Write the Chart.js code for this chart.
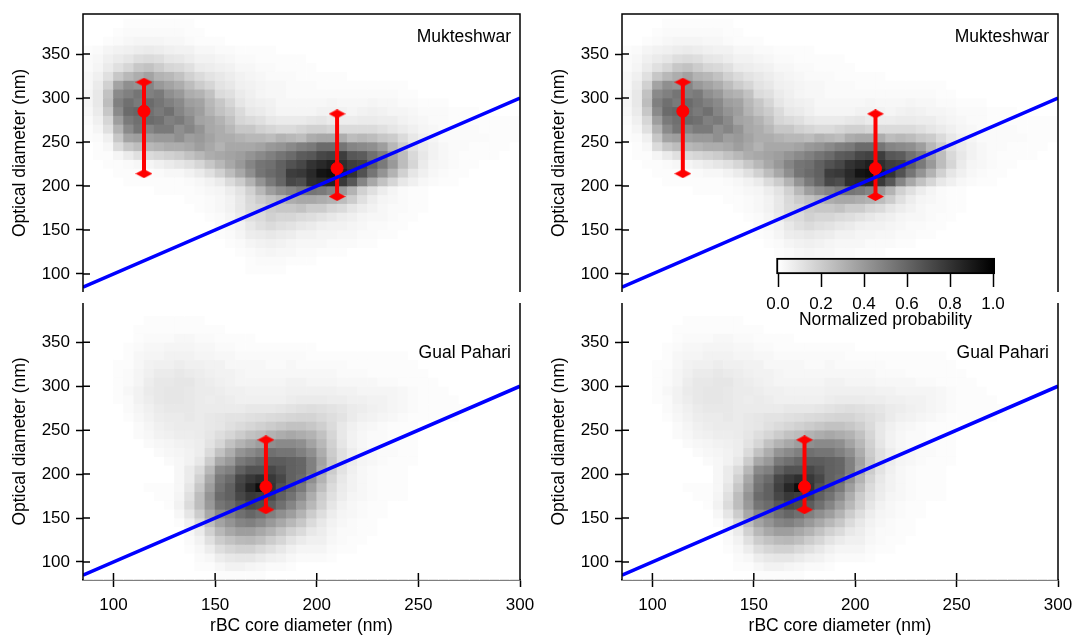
<!DOCTYPE html>
<html>
<head>
<meta charset="utf-8">
<title>Optical diameter vs rBC core diameter</title>
<script src="https://cdn.jsdelivr.net/npm/chart.js@4"></script>
<style>
    html, body { margin: 0; padding: 0; background: #fff; overflow: hidden; }
    canvas { position: absolute; }
</style>
</head>
<body>
<canvas id="mukLeft" width="539" height="295" style="left:0;top:0"></canvas>
<canvas id="mukRight" width="534" height="295" style="left:539px;top:0"></canvas>
<canvas id="gualLeft" width="539" height="342" style="left:0;top:295px"></canvas>
<canvas id="gualRight" width="534" height="342" style="left:539px;top:295px"></canvas>
<canvas id="colorBar" width="290" height="100" style="left:740px;top:240px"></canvas>
<script>
// centros de las celdas (nm)
const xCenters = [87.5,92.5,97.5,102.5,107.5,112.5,117.5,122.5,127.5,132.5,137.5,142.5,147.5,152.5,157.5,162.5,167.5,172.5,177.5,182.5,187.5,192.5,197.5,202.5,207.5,212.5,217.5,222.5,227.5,232.5,237.5,242.5,247.5,252.5,257.5,262.5,267.5,272.5,277.5,282.5,287.5,292.5,297.5];
const yCenters = [385,375,365,355,345,335,325,315,305,295,285,275,265,255,245,235,225,215,205,195,185,175,165,155,145,135,125,115,105,95,85];
const xTicks = [100,150,200,250,300];
const yTicks = [100,150,200,250,300,350];

// probabilidad en %, una fila por yCenters (los ceros del final se omiten)
const mukteshwarRows = [
    [0,0,0,0,1,1,1,1,1,1,1],
    [0,0,0,1,2,2,2,2,2,2,1,1],
    [0,0,1,2,3,4,4,4,3,3,2,1,1,1],
    [1,2,4,5,6,7,8,7,6,5,5,3,3,2,2,1,1,1,1],
    [2,3,6,8,10,13,14,13,10,9,7,5,5,4,3,2,2,1,1,1,1,1],
    [2,4,8,12,16,22,24,20,16,15,12,8,7,6,5,3,3,2,2,1,1,1,1],
    [3,6,12,22,28,32,36,30,28,24,18,14,11,9,7,5,4,3,2,2,2,1,1,1,1,1],
    [3,8,18,36,44,42,48,40,36,32,26,20,16,11,9,6,5,4,3,3,2,2,2,1,1,1,1,1,1,1,1,1],
    [4,9,24,46,50,54,50,52,44,40,32,30,24,14,12,8,6,4,3,3,2,2,2,2,2,2,2,2,2,2,2,1,1],
    [4,9,26,50,56,52,58,54,50,46,38,36,28,22,16,10,7,6,5,3,3,3,3,3,4,3,3,3,4,3,3,2,2,1,1,1],
    [3,8,22,46,58,60,56,52,56,48,42,38,30,24,20,14,9,8,6,4,4,4,4,5,5,5,4,5,6,5,4,4,3,2,2,2,1,1,1],
    [2,6,16,38,52,56,58,56,50,52,46,36,34,30,24,16,14,12,9,8,8,8,9,10,8,7,7,8,8,7,7,5,4,3,2,2,1,1,1,1,1,1,1],
    [1,4,12,30,46,54,48,52,52,44,48,42,34,32,28,22,22,18,16,14,14,16,18,18,16,14,14,14,14,12,10,8,6,4,3,2,2,2,2,1,1,1,1],
    [1,2,6,22,36,38,38,40,40,44,38,40,36,32,32,30,28,28,26,30,28,26,32,34,34,32,26,28,26,22,20,14,9,6,4,2,2,2,2,2,1,1,1],
    [0,1,3,14,22,26,28,30,32,32,34,38,34,30,34,34,34,36,40,42,46,50,52,58,58,54,48,46,44,38,28,20,12,8,5,3,2,2,1,1,1,1],
    [0,1,1,4,8,12,14,16,18,20,24,28,32,34,36,38,42,46,50,54,58,64,66,72,74,76,66,64,56,50,36,26,15,9,5,3,2,1,1,1,1],
    [0,0,1,1,2,3,4,6,8,10,12,16,22,28,34,40,48,54,56,62,68,72,80,84,88,82,76,74,62,52,40,26,16,8,4,3,2,1,1],
    [0,0,0,1,1,1,1,2,3,3,5,8,12,18,26,34,44,54,58,62,76,78,84,92,94,88,80,68,54,42,30,18,10,6,3,2,1,1],
    [0,0,0,0,1,1,1,1,1,1,2,3,5,8,14,20,30,42,52,60,72,70,82,84,86,78,66,48,34,24,16,9,6,3,2,1,1],
    [0,0,0,0,0,0,0,1,1,1,1,2,3,4,7,11,18,28,38,44,48,52,54,52,48,40,30,18,12,7,4,2,1,1],
    [0,0,0,0,0,0,0,0,0,0,1,1,2,3,5,9,15,20,24,28,32,34,34,32,30,26,20,12,7,4,3,2,1,1],
    [0,0,0,0,0,0,0,0,0,0,0,1,2,3,5,9,14,16,20,22,22,24,20,20,16,14,10,7,5,3,2,2,1,1],
    [0,0,0,0,0,0,0,0,0,0,0,0,1,2,4,8,12,14,18,16,16,14,13,11,9,7,6,4,3,3,2,1,1],
    [0,0,0,0,0,0,0,0,0,0,0,0,0,2,3,5,9,12,14,12,11,9,8,6,5,5,4,3,2,2,1,1],
    [0,0,0,0,0,0,0,0,0,0,0,0,0,1,2,4,7,8,9,8,7,5,5,4,4,3,3,2,2,1,1],
    [0,0,0,0,0,0,0,0,0,0,0,0,0,0,1,2,4,5,6,5,4,3,3,3,2,2,2,1,1],
    [0,0,0,0,0,0,0,0,0,0,0,0,0,0,0,1,2,3,4,3,3,2,2,1,1,1],
    [0,0,0,0,0,0,0,0,0,0,0,0,0,0,0,0,1,2,2,2,1,1,1],
    [0,0,0,0,0,0,0,0,0,0,0,0,0,0,0,0,1,1,1,1],
    [],
    []
];

const gualPahariRows = [
    [],
    [0,0,0,0,0,0,1,1,1,1,1,1],
    [0,0,0,0,0,1,1,1,1,1,1,1,1,1],
    [0,0,0,0,0,1,2,2,2,3,3,2,2,1,1,1,1],
    [0,0,0,0,1,2,3,3,4,4,4,3,3,2,2,1,1,1,1,1,1,1,1],
    [0,0,0,0,1,3,4,4,5,5,5,4,4,3,3,2,2,2,2,2,2,2,1,1,1,1,1,1,1,1,1,1],
    [0,0,0,1,1,3,5,6,6,7,6,6,5,5,3,3,3,3,2,2,3,2,2,2,2,2,1,1,1,1,1,1,1],
    [0,0,0,1,2,4,6,8,8,9,8,7,6,5,5,4,3,3,3,3,3,3,3,3,3,2,2,2,1,1,1,1,1,1],
    [0,0,0,1,2,4,7,9,9,10,10,8,7,6,5,4,4,4,4,4,5,5,4,4,4,3,3,3,3,2,2,1,1,1,1],
    [0,0,0,1,3,5,8,9,10,10,9,8,8,7,6,6,5,5,5,5,6,6,6,6,6,5,5,4,4,4,4,3,2,1,1,1],
    [0,0,0,1,2,5,7,9,10,10,9,8,7,8,7,6,6,6,6,6,7,8,8,8,7,7,6,6,5,5,4,3,2,1,1,1,1],
    [0,0,0,0,2,4,6,8,9,9,9,8,8,8,8,8,9,9,9,10,11,12,13,12,11,10,8,7,6,5,4,3,2,1,1,1,1,1],
    [0,0,0,0,1,3,5,7,8,8,9,8,9,10,11,11,12,13,14,15,16,17,17,15,13,11,8,6,5,4,3,2,1,1,1,1,1],
    [0,0,0,0,0,2,4,6,7,8,8,8,9,10,12,14,16,18,20,22,24,24,22,19,14,9,6,4,3,2,1,1,1],
    [0,0,0,0,0,2,3,5,6,7,7,8,10,13,16,20,24,26,30,32,34,32,30,24,16,9,5,3,2,2,1,1,1],
    [0,0,0,0,0,0,2,3,4,5,6,7,11,16,24,30,34,38,44,46,46,44,36,28,18,10,5,3,2,2,1,1,1],
    [0,0,0,0,0,0,0,2,3,4,5,7,14,24,32,42,46,50,56,54,54,50,44,32,20,12,7,4,3,2,2,1,1],
    [0,0,0,0,0,0,0,0,2,3,5,9,20,34,40,52,56,60,64,64,62,60,50,36,22,12,7,4,3,2,1,1,1],
    [0,0,0,0,0,0,0,0,0,3,8,14,28,46,50,62,68,68,72,68,62,60,50,34,20,11,6,3,2,1,1,1],
    [0,0,0,0,0,0,0,0,0,3,8,18,34,52,58,72,78,82,78,72,62,58,44,30,17,9,5,3,2,1,1,1],
    [0,0,0,0,0,0,1,1,1,3,10,22,38,55,62,75,85,95,80,68,60,52,38,25,14,8,5,3,2,1,1,1],
    [0,0,0,0,0,0,0,1,1,4,12,26,42,58,62,72,78,76,72,62,55,45,32,20,12,7,4,3,2,1,1,1],
    [0,0,0,0,0,0,0,0,1,5,14,26,40,54,58,66,72,70,64,56,48,38,28,18,10,5,3,2,1,1],
    [0,0,0,0,0,0,0,0,0,3,10,20,34,46,50,56,60,56,50,44,38,30,20,13,7,4,3,2,1,1],
    [0,0,0,0,0,0,0,0,0,1,6,14,26,36,42,48,50,46,40,34,28,22,14,9,5,3,2,1,1],
    [0,0,0,0,0,0,0,0,0,0,3,8,18,28,34,38,38,34,30,24,18,14,9,7,4,2,2,1,1],
    [0,0,0,0,0,0,0,0,0,0,2,5,12,20,24,27,28,25,20,16,11,8,6,6,3,2,1,1],
    [0,0,0,0,0,0,0,0,0,0,1,3,7,13,16,18,18,15,12,9,6,4,4,4,2,1,1],
    [0,0,0,0,0,0,0,0,0,0,0,2,3,7,9,10,10,8,6,5,3,2,2,2,1],
    [0,0,0,0,0,0,0,0,0,0,0,1,1,3,5,5,4,3,2,2,1],
    [0,0,0,0,0,0,0,0,0,0,0,0,0,1,1,1,1,1]
];

// barras de error: x, centro, extremo alto, extremo bajo
const mukXs = [115, 210];
const mukMid = [285, 220];
const mukHigh = [318, 282];
const mukLow = [214, 188];
const gualXs = [175];
const gualMid = [185.5];
const gualHigh = [239];
const gualLow = [159.5];

const lineXs = [85, 300];
const lineYs = [85, 300];

const colorBarTicks = [0, 0.2, 0.4, 0.6, 0.8, 1];
const colorBarRange = [-0.007, 1.008];

const fontName = '"Liberation Sans", Arial, sans-serif';

const grayColor = v => {
    const g = Math.round(255 * (1 - v / 100));
    return `rgb(${g},${g},${g})`;
};

// rombo de los extremos de la barra de error
const capMark = document.createElement('canvas');
capMark.width = 17;
capMark.height = 9;
const capCtx = capMark.getContext('2d');
capCtx.fillStyle = '#ff0000';
capCtx.beginPath();
capCtx.moveTo(0, 4.5);
capCtx.lineTo(8.5, 0);
capCtx.lineTo(17, 4.5);
capCtx.lineTo(8.5, 9);
capCtx.closePath();
capCtx.fill();

// sin margenes extra por las etiquetas, el area del grafico queda fija
const noPadding = s => {
    s.paddingTop = 0;
    s.paddingBottom = 0;
    s.paddingLeft = 0;
    s.paddingRight = 0;
};

// marco, ticks hacia adentro y nombre del sitio
const panelFrame = {
    id: 'panelFrame',
    afterDraw(chart, args, opts) {
        const { ctx, chartArea: a, scales } = chart;
        ctx.save();
        ctx.strokeStyle = '#000';
        ctx.lineWidth = 1.5;
        ctx.beginPath();
        ctx.moveTo(a.left, a.bottom);
        ctx.lineTo(a.left, a.top);
        if (opts.top) {
            ctx.lineTo(a.right, a.top);
        } else {
            ctx.moveTo(a.right, a.top);
        }
        ctx.lineTo(a.right, a.bottom);
        yTicks.forEach(v => {
            const y = scales.y.getPixelForValue(v);
            ctx.moveTo(a.left, y);
            ctx.lineTo(a.left + 7, y);
        });
        if (!opts.top) {
            xTicks.forEach(v => {
                const x = scales.x.getPixelForValue(v);
                ctx.moveTo(x, a.bottom);
                ctx.lineTo(x, a.bottom - 7);
            });
        }
        ctx.stroke();
        ctx.fillStyle = '#000';
        ctx.font = '17.5px ' + fontName;
        ctx.textAlign = 'right';
        ctx.textBaseline = 'middle';
        ctx.fillText(opts.label, a.right - 9, a.top + opts.labelOffset);
        ctx.restore();
    }
};

const heatDatasets = rows => yCenters.map((y, r) => ({
    type: 'bar',
    data: xCenters.map(x => ({ x, y: [y - 5, y + 5] })),
    backgroundColor: xCenters.map((x, c) => grayColor(rows[r][c] || 0)),
    barPercentage: 1,
    categoryPercentage: 1,
    grouped: false,
    borderWidth: 0,
    order: 100
}));

const errorDatasets = (xs, mid, high, low) => {
    const out = [];
    xs.forEach((x, i) => {
        out.push({
            type: 'line',
            data: [{ x, y: low[i] }, { x, y: high[i] }],
            borderColor: '#ff0000',
            borderWidth: 4,
            pointStyle: capMark,
            pointRadius: 8,
            order: 3
        });
        out.push({
            type: 'line',
            data: [{ x, y: mid[i] }],
            showLine: false,
            backgroundColor: '#ff0000',
            borderColor: '#ff0000',
            pointRadius: 6,
            order: 1
        });
    });
    return out;
};

const drawPanel = (id, rows, marks, label, isTop, rightPad) => {
    new Chart(id, {
        type: 'bar',
        data: {
            datasets: [
                ...heatDatasets(rows),
                ...errorDatasets(marks.xs, marks.mid, marks.high, marks.low),
                {
                    type: 'line',
                    data: lineXs.map((x, i) => ({ x, y: lineYs[i] })),
                    borderColor: '#0000ff',
                    borderWidth: 3.5,
                    pointRadius: 0,
                    order: 2
                }
            ]
        },
        options: {
            responsive: false,
            animation: false,
            events: [],
            layout: { autoPadding: false, padding: { left: 0, right: rightPad, top: isTop ? 14 : 8, bottom: isTop ? 3 : 0 } },
            plugins: {
                legend: { display: false },
                tooltip: { enabled: false },
                panelFrame: { label, top: isTop, labelOffset: isTop ? 23 : 50 }
            },
            scales: {
                x: {
                    type: 'linear',
                    display: !isTop,
                    min: 85,
                    max: 300,
                    offset: false,
                    afterBuildTicks: s => { s.ticks = xTicks.map(value => ({ value })); },
                    afterFit: s => { s.height = isTop ? 0 : 57; noPadding(s); },
                    grid: { offset: false, drawOnChartArea: false, tickLength: 7, tickWidth: 1.5, tickColor: '#000' },
                    border: { color: '#000', width: 1.5 },
                    ticks: { color: '#000', font: { family: fontName, size: 17 }, maxRotation: 0, autoSkip: false, padding: 8 },
                    title: { display: true, text: 'rBC core diameter (nm)', color: '#000', font: { family: fontName, size: 17.5 }, padding: { top: 0, bottom: 0 } }
                },
                y: {
                    min: 79.5,
                    max: isTop ? 395.5 : 394.7,
                    afterBuildTicks: s => { s.ticks = yTicks.map(value => ({ value })); },
                    afterFit: s => { s.width = 83; noPadding(s); },
                    grid: { drawOnChartArea: false, tickLength: 7, tickWidth: 1.5, tickColor: '#000' },
                    border: { display: false },
                    ticks: { color: '#000', font: { family: fontName, size: 17 }, autoSkip: false, padding: 6 },
                    title: { display: true, text: 'Optical diameter (nm)', color: '#000', font: { family: fontName, size: 17.5 }, padding: { top: 10, bottom: 0 } }
                }
            }
        },
        plugins: [panelFrame]
    });
};

const mukMarks = { xs: mukXs, mid: mukMid, high: mukHigh, low: mukLow };
const gualMarks = { xs: gualXs, mid: gualMid, high: gualHigh, low: gualLow };

drawPanel('mukLeft', mukteshwarRows, mukMarks, 'Mukteshwar', true, 19);
drawPanel('mukRight', mukteshwarRows, mukMarks, 'Mukteshwar', true, 15);
drawPanel('gualLeft', gualPahariRows, gualMarks, 'Gual Pahari', false, 19);
drawPanel('gualRight', gualPahariRows, gualMarks, 'Gual Pahari', false, 15);

// barra de color
new Chart('colorBar', {
    type: 'bar',
    data: {
        labels: ['p'],
        datasets: [{
            data: [colorBarRange],
            backgroundColor: c => {
                const a = c.chart.chartArea;
                if (!a) return '#888';
                const grad = c.chart.ctx.createLinearGradient(a.left, 0, a.right, 0);
                grad.addColorStop(0, '#ffffff');
                grad.addColorStop(1, '#000000');
                return grad;
            },
            borderColor: '#000',
            borderWidth: 2,
            borderSkipped: false,
            barPercentage: 1,
            categoryPercentage: 1,
            clip: false
        }]
    },
    options: {
        indexAxis: 'y',
        responsive: false,
        animation: false,
        events: [],
        layout: { autoPadding: false, padding: { left: 38, right: 37, top: 18, bottom: 9 } },
        plugins: { legend: { display: false }, tooltip: { enabled: false } },
        scales: {
            y: { display: false },
            x: {
                min: 0,
                max: 1,
                afterBuildTicks: s => { s.ticks = colorBarTicks.map(value => ({ value })); },
                afterFit: s => { s.height = 57; noPadding(s); },
                grid: { drawOnChartArea: false, tickLength: 13, tickWidth: 1.5, tickColor: '#000' },
                border: { display: false },
                ticks: { color: '#000', font: { family: fontName, size: 17 }, padding: 7, maxRotation: 0, autoSkip: false, callback: v => v.toFixed(1) },
                title: { display: true, text: 'Normalized probability', color: '#000', font: { family: fontName, size: 17.5 }, padding: { top: 0, bottom: 0 } }
            }
        }
    }
});
</script>
</body>
</html>
